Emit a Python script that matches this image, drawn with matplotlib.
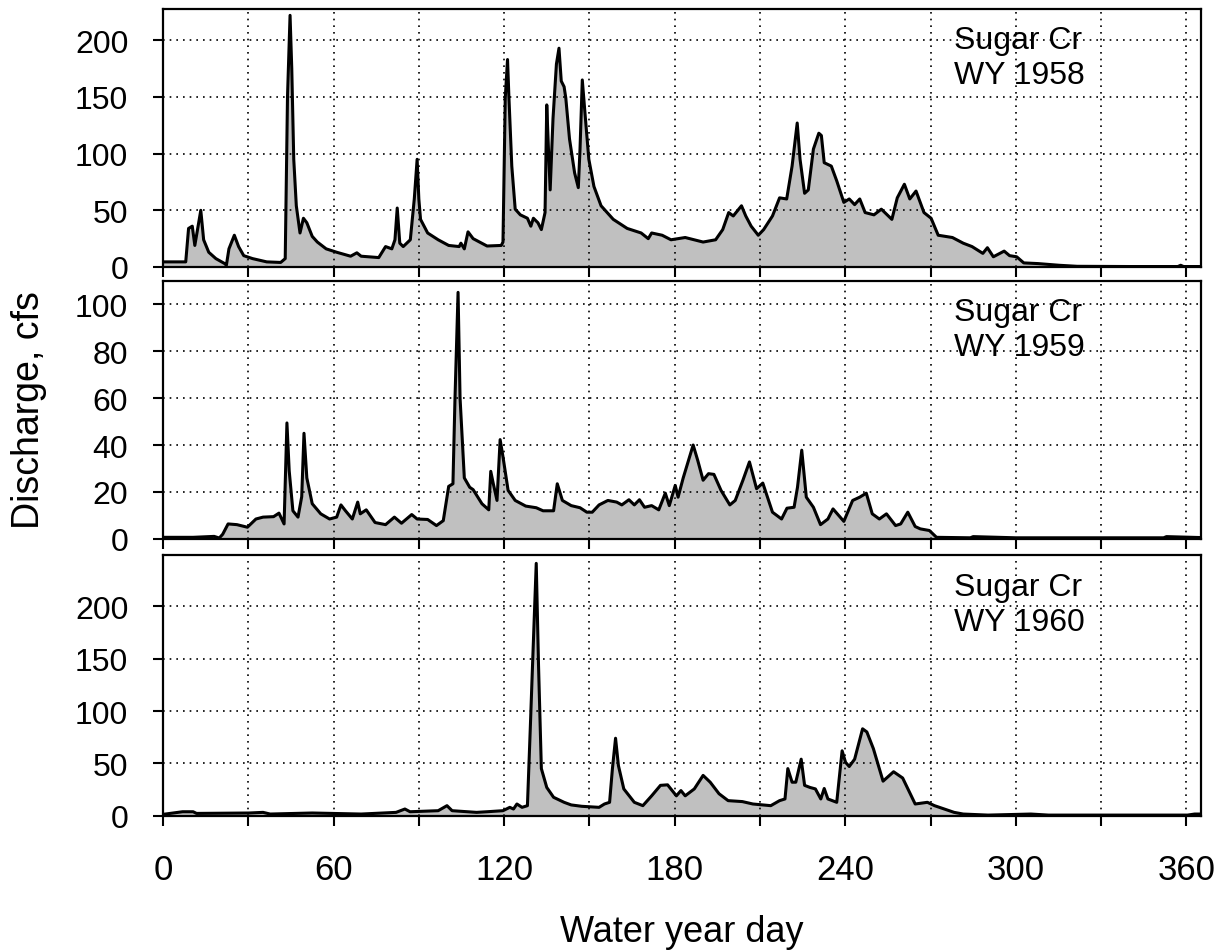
import matplotlib
matplotlib.use('Agg')
import matplotlib.pyplot as plt
from matplotlib.ticker import MultipleLocator

plt.rcParams['font.family'] = ['Liberation Sans', 'DejaVu Sans']

# Sugar Cr daily discharge (day, cfs)
days_1958 = [0, 8, 9, 10.3, 11.2, 13.3, 14.3, 16.1, 18.6, 21.7, 22.3, 23.2, 25.1, 26.6, 28.4,
             31.5, 36.5, 41.4, 43, 43.8, 44.7, 45.3, 46, 46.9, 48.2, 49.4, 50.6, 52.5, 54.3,
             57.4, 61.1, 66, 68.2, 69.7, 75.9, 78.3, 80.5, 81.6, 82.4, 83.3, 84.5, 87, 88.4,
             89.4, 90, 90.6, 93.1, 96.8, 100.5, 104.2, 104.8, 106, 107.3, 109.1, 114, 119,
             119.6, 120.4, 121.2, 121.7, 122.7, 123.9, 125.7, 128.2, 129.4, 130.3, 131.9,
             133.1, 134.4, 135, 135.6, 136.2, 137.2, 138.4, 139.3, 140.1, 141.1, 141.7, 143,
             144.8, 146.1, 146.7, 147.5, 148.5, 149.8, 151.6, 154.1, 158.4, 163.3, 168.2,
             170.7, 171.9, 175.6, 178.7, 183.7, 190, 194.4, 196.9, 199, 200.6, 203.5, 205,
             206.9, 209.4, 211.3, 214.4, 216.9, 219.4, 221.3, 223.1, 224.1, 225.7, 227, 228.8,
             230.7, 231.6, 232.6, 235.1, 237, 239.5, 241.4, 243.3, 245.1, 247, 250.1, 252.7,
             256.4, 258.3, 260.8, 262.7, 264.9, 267.7, 270.2, 272.7, 277.7, 281.5, 284.6,
             288.4, 290, 292.1, 295.9, 297.8, 300.3, 302.8, 307.8, 315.3, 321.6, 340, 357,
             358, 359, 365]
q_1958 = [4.5, 4.5, 34, 36, 19, 50, 24, 13, 7.4, 3, 1.5, 16, 28, 18, 10,
          7.4, 4.5, 4, 7.4, 150, 222, 175, 95, 54, 30, 43, 39, 27, 22,
          16, 13, 9.5, 12.5, 9.5, 8.3, 18, 16, 24, 52, 21, 18, 24, 60,
          95, 60, 42, 30, 24, 19, 18, 21, 16, 31, 25, 18.5, 19,
          22, 149, 183, 149, 89, 51, 46, 43, 36, 43, 39,
          33, 48, 143, 104, 68, 131, 179, 193, 164, 159, 149, 113,
          83, 70, 104, 165, 134, 95, 71, 54, 42, 34, 30,
          25, 30, 28, 24, 26, 22, 24, 33, 48, 45, 54, 45,
          36, 28, 33, 45, 61, 60, 89, 127, 95, 65, 68, 104,
          118, 116, 92, 89, 76, 57, 60, 55, 60, 48, 46, 51,
          42, 61, 73, 60, 67, 48, 43, 28, 26, 21, 18,
          12, 17, 9, 14, 10, 9, 3.6, 3, 1.5, 0.6, 0.4, 0.4,
          1.5, 0.4, 0.4]

days_1959 = [0, 10.6, 18, 19.8, 21, 22.9, 26, 29.7, 32.7, 35.2, 38.9, 40.8, 42.6, 43.6, 44.4,
             45.7, 47.5, 48.8, 49.6, 50.6, 52.5, 55.5, 58.6, 61.1, 62.6, 64.2, 66.6, 68.5,
             69.4, 71.5, 74.6, 78.3, 81.4, 83.9, 87.5, 89.4, 93.1, 96.2, 98.6, 100.5, 102,
             102.7, 103.8, 104.5, 106, 107.9, 109.1, 112.2, 114.6, 115.3, 116.2, 117.5, 118.6,
             119.6, 121.4, 123.9, 127.6, 131.3, 133.7, 137.4, 138.7, 140.5, 143.6, 146.7,
             149.1, 151, 153.4, 156.5, 159.6, 161.4, 163.9, 165.8, 167.6, 169.4, 171.9, 174.4,
             176.7, 178.1, 180.2, 181.2, 183, 186.5, 188.1, 190, 191.9, 193.8, 196.3, 199.4,
             201.3, 204, 206.3, 208.8, 211, 214.4, 217.6, 219.5, 222, 223.2, 224.7, 226.3,
             228.8, 231.3, 233.9, 235.7, 239.5, 242.6, 245.1, 247.4, 249.5, 252, 254.5, 257.7,
             259.5, 262, 264.6, 266.4, 269.6, 272.1, 284, 285, 300, 352, 353, 365]
q_1959 = [0.7, 0.7, 1.1, 0.4, 2, 6.4, 6.1, 5, 8.5, 9.3, 9.5, 11, 6.4, 49.4, 29,
          12, 9.3, 18, 45, 26, 15, 10.7, 8.5, 9.3, 14.5, 12, 8.5, 15.7,
          10.7, 12.4, 7, 6.1, 9.3, 6.7, 10.4, 8.5, 8.3, 5.7, 7.8, 22.4, 23.5,
          59, 105, 60, 26, 22, 21, 15, 12.4, 28.8, 23.5, 16.4, 42.3,
          35, 20.7, 16.4, 14, 13.3, 12, 12, 23.5, 16.4, 14.2, 13.3,
          11.4, 11.4, 14.5, 16.4, 15.7, 14.5, 16.7, 14.5, 16.7, 13.5, 14.2, 12.4,
          19.5, 14.2, 22.8, 17.8, 26, 40, 33.5, 25, 27.8, 27.5, 20.7, 14.5,
          16.4, 25, 32.8, 21.4, 23.8, 11.4, 8.5, 13.1, 13.5, 22, 37.8, 17.8,
          13.5, 6.1, 8.5, 12.8, 7.5, 16.4, 17.8, 19.5, 10.7, 8.5, 10.7, 5.7,
          6.4, 11.4, 5.3, 4.3, 3.6, 0.7, 0.5, 1, 0.5, 0.5, 1, 0.6]

days_1960 = [0, 6.9, 10.6, 11.8, 30.3, 35.2, 37.7, 52.5, 69.7, 82, 85.1, 86.9, 96.8, 99.9,
             101.7, 110.3, 114, 119.6, 122, 123.3, 124.5, 126.3, 128.2, 129.2, 130, 131.3,
             132.1, 133.1, 135, 137.4, 141.1, 143.6, 147.3, 153.4, 155.3, 157.1, 158.1, 159.2,
             160.2, 162.1, 165.8, 168.8, 171.9, 175, 177.5, 180.6, 182.2, 183.7, 186.9, 190,
             192.5, 195.6, 198.8, 203.8, 207.5, 213.8, 216.9, 218.8, 219.8, 221.3, 222.6,
             224.5, 225.7, 227.6, 229.5, 231.4, 232.6, 233.9, 237, 238.9, 240.1, 241.4, 243.3,
             246.1, 247.6, 249.9, 253.3, 257, 260.2, 264.6, 268.9, 271.4, 278.3, 281.5, 290.2,
             305.3, 311.5, 360.4, 362.9, 365]
q_1960 = [1.3, 3.8, 3.8, 2.2, 2.6, 3.2, 1.6, 2.6, 1.6, 3.2, 6.4, 3.8, 4.8, 9.6,
          4.8, 3.2, 3.8, 4.8, 8, 6.4, 11.2, 8, 9.6, 83, 144, 241,
          144, 45, 27, 17.6, 12.8, 10.3, 9, 8, 11.2, 12.8, 45, 74,
          48, 25.6, 12.8, 9.6, 19, 29, 29.5, 19, 24, 19, 25.6, 38.5,
          32, 21, 14.4, 13.5, 11.2, 9.6, 14.4, 16, 45, 32, 32,
          54, 29, 27, 25.6, 16, 26, 16, 12.8, 62, 51, 47, 54,
          83, 80, 64, 33, 42, 36, 11.2, 12.8, 9.6, 3.2, 1.6, 0.6,
          1.6, 0.6, 0.6, 1.6, 1.6]

years = ['1958', '1959', '1960']
series = [(days_1958, q_1958), (days_1959, q_1959), (days_1960, q_1960)]
y_tops = [228, 110, 249]
y_steps = [50, 20, 50]

fig = plt.figure(figsize=(12.31, 9.53), dpi=100)
left, width = 0.1324, 0.8429
boxes = [(0.7188, 0.2712), (0.4334, 0.2711), (0.1430, 0.2736)]

for i, (yr, (d, q)) in enumerate(zip(years, series)):
    bottom, height = boxes[i]
    ax = fig.add_axes([left, bottom, width, height])
    ax.fill_between(d, q, 0, color='#c0c0c0', linewidth=0)
    ax.plot(d, q, color='black', lw=2.2)
    ax.set_xlim(0, 365)
    ax.set_ylim(0, y_tops[i])
    ax.xaxis.set_major_locator(MultipleLocator(60))
    ax.xaxis.set_minor_locator(MultipleLocator(30))
    ax.yaxis.set_major_locator(MultipleLocator(y_steps[i]))
    ax.grid(True, which='both', axis='x', color='black', linestyle=(0, (1, 3)), lw=1.2)
    ax.grid(True, which='major', axis='y', color='black', linestyle=(0, (1, 3)), lw=1.2)
    ax.tick_params(which='both', direction='out', length=7, width=1.5,
                   top=False, right=False)
    ax.tick_params(axis='y', labelsize=23, pad=18)
    ax.tick_params(axis='x', labelsize=25, pad=20)
    for sp in ax.spines.values():
        sp.set_linewidth(1.6)
    if i < 2:
        ax.tick_params(axis='x', labelbottom=False)
    else:
        ax.set_xlabel('Water year day', fontsize=26, labelpad=20)
    ax.text(0.762, 0.935, 'Sugar Cr\nWY ' + yr, transform=ax.transAxes,
            fontsize=23, va='top', ha='left', linespacing=1.2)

fig.text(0.009, 0.57, 'Discharge, cfs', rotation=90, fontsize=27, va='center', ha='left')

fig.savefig('out.png', dpi=100)
